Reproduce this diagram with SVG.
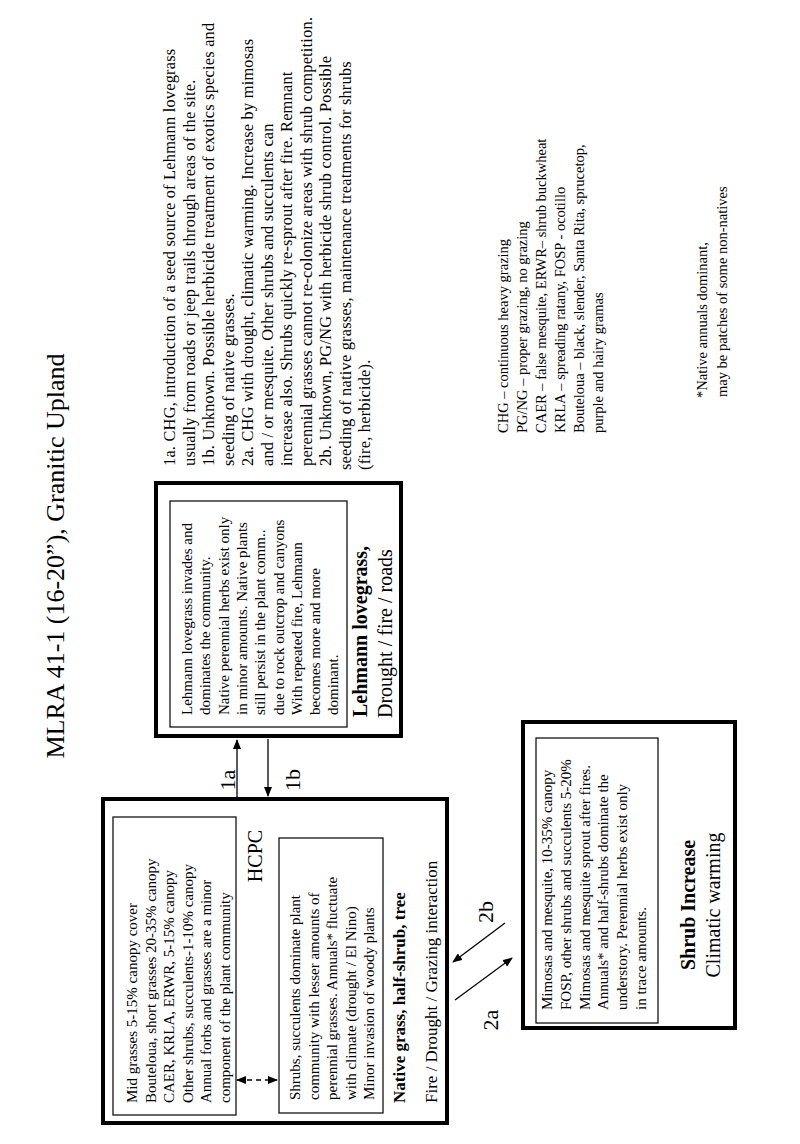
<svg xmlns="http://www.w3.org/2000/svg" width="800" height="1144" viewBox="0 0 800 1144">
<style>
text{font-family:"Liberation Serif","Times New Roman",serif;fill:#000}
.b{font-size:15px}.n{font-size:16.4px;letter-spacing:0.2px}.lg{font-size:14.5px}
.h{font-size:20px}.bold{font-weight:bold}
.outer{fill:none;stroke:#000;stroke-width:4}
.inner{fill:none;stroke:#000;stroke-width:1.2}
.ln{stroke:#000;stroke-width:1.3;fill:none}
</style>
<defs>
<marker id="ah" markerWidth="10" markerHeight="8" refX="9" refY="4" orient="auto" markerUnits="userSpaceOnUse"><path d="M0,0L10,4L0,8z" fill="#000"/></marker>
</defs>
<rect width="800" height="1144" fill="#fff"/>
<g transform="translate(0,1144) rotate(-90)">
<text x="588" y="64" text-anchor="middle" style="font-size:26px">MLRA 41-1 (16-20”), Granitic Upland</text>
<g id="notes" class="n">
<text x="678" y="175">1a. CHG, introduction of a seed source of Lehmann lovegrass</text>
<text x="678" y="194.5">usually from roads or jeep trails through areas of the site.</text>
<text x="678" y="214">1b. Unknown. Possible herbicide treatment of exotics species and</text>
<text x="678" y="233.5">seeding of native grasses.</text>
<text x="678" y="253">2a. CHG with drought, climatic warming. Increase by mimosas</text>
<text x="678" y="272.5">and / or mesquite. Other shrubs and succulents can</text>
<text x="678" y="292">increase also. Shrubs quickly re-sprout after fire. Remnant</text>
<text x="678" y="311.5">perennial grasses cannot re-colonize areas with shrub competition.</text>
<text x="678" y="331">2b. Unknown, PG/NG  with herbicide shrub control. Possible</text>
<text x="674" y="350.5">seeding of native grasses, maintenance treatments for shrubs</text>
<text x="674" y="370">(fire, herbicide).</text>
</g>
<g id="legend" class="lg">
<text x="711" y="508">CHG – continuous heavy grazing</text>
<text x="711" y="527">PG/NG – proper grazing, no grazing</text>
<text x="711" y="546">CAER – false mesquite, ERWR– shrub buckwheat</text>
<text x="711" y="565">KRLA – spreading ratany,  FOSP - ocotillo</text>
<text x="711" y="584">Bouteloua – black, slender, Santa Rita, sprucetop,</text>
<text x="711" y="603">purple and hairy gramas</text>
</g>
<g id="footnote" class="lg">
<text x="746" y="707">*Native annuals dominant,</text>
<text x="747" y="727">may be patches of some non-natives</text>
</g>
<g id="hcpc">
<rect class="outer" x="21" y="103" width="324" height="344"/>
<rect class="inner" x="29" y="113" width="298" height="123"/>
<g class="b">
<text x="41" y="137">Mid grasses 5-15% canopy cover</text>
<text x="41" y="155.5">Bouteloua, short grasses 20-35%  canopy</text>
<text x="41" y="174">CAER, KRLA, ERWR, 5-15% canopy</text>
<text x="41" y="192.5">Other shrubs, succulents-1-10% canopy</text>
<text x="41" y="211">Annual forbs and grasses are a minor</text>
<text x="41" y="229.5">component of the plant community</text>
</g>
<text x="288" y="262" text-anchor="middle" style="font-size:20px">HCPC</text>
<rect class="inner" x="31" y="279" width="275" height="104"/>
<g class="b">
<text x="44" y="300">Shrubs, succulents dominate plant</text>
<text x="44" y="318.5">community with lesser amounts of</text>
<text x="44" y="337">perennial grasses. Annuals* fluctuate</text>
<text x="44" y="355.5">with climate (drought / El Nino)</text>
<text x="44" y="374">Minor invasion of woody plants</text>
</g>
<text x="41" y="405" class="bold" style="font-size:17px">Native grass, half-shrub, tree</text>
<text x="41" y="437" style="font-size:17px">Fire / Drought / Grazing interaction</text>
</g>
<g id="lehmann">
<rect class="outer" x="408" y="156" width="253" height="245"/>
<rect class="inner" x="417" y="170" width="226" height="177"/>
<g class="b">
<text x="429" y="192">Lehmann lovegrass invades and</text>
<text x="429" y="210.3">dominates the community.</text>
<text x="429" y="228.6">Native perennial herbs exist only</text>
<text x="429" y="246.9">in minor amounts. Native plants</text>
<text x="429" y="265.2">still persist in the plant comm..</text>
<text x="429" y="283.5">due to rock outcrop and canyons</text>
<text x="429" y="301.8">With repeated fire, Lehmann</text>
<text x="429" y="320.1">becomes more and more</text>
<text x="429" y="338.4">dominant.</text>
</g>
<text x="427" y="367" class="h bold">Lehmann lovegrass,</text>
<text x="426" y="392" class="h">Drought / fire / roads</text>
</g>
<g id="shrub">
<rect class="outer" x="116" y="523" width="306" height="212"/>
<rect class="inner" x="121" y="536" width="285" height="122"/>
<g class="b">
<text x="134" y="552">Mimosas and mesquite, 10-35% canopy</text>
<text x="134" y="570.8">FOSP, other shrubs and succulents 5-20%</text>
<text x="134" y="589.6">Mimosas and mesquite sprout after fires.</text>
<text x="134" y="608.4">Annuals* and half-shrubs dominate the</text>
<text x="134" y="627.2">understory. Perennial herbs exist only</text>
<text x="134" y="646">in trace amounts.</text>
</g>
<text x="239" y="695" text-anchor="middle" class="h bold">Shrub Increase</text>
<text x="239" y="720" text-anchor="middle" class="h">Climatic warming</text>
</g>
<g id="connectors">
<line class="ln" x1="347" y1="237" x2="404" y2="237" marker-end="url(#ah)"/>
<line class="ln" x1="405" y1="268" x2="348" y2="268" marker-end="url(#ah)"/>
<line class="ln" x1="64" y1="243" x2="64" y2="237" marker-end="url(#ah)"/>
<line class="ln" x1="64" y1="247" x2="64" y2="273" stroke-dasharray="5,4"/>
<line class="ln" x1="64" y1="271" x2="64" y2="277" marker-end="url(#ah)"/>
<line class="ln" x1="221" y1="505" x2="182" y2="453" marker-end="url(#ah)"/>
<line class="ln" x1="144" y1="455" x2="186" y2="512" marker-end="url(#ah)"/>
<text x="364" y="235" text-anchor="middle" style="font-size:22px">1a</text>
<text x="364" y="300" text-anchor="middle" style="font-size:22px">1b</text>
<text x="232" y="493" text-anchor="middle" style="font-size:22px">2b</text>
<text x="124" y="498" text-anchor="middle" style="font-size:22px">2a</text>
</g>
</g>
</svg>
